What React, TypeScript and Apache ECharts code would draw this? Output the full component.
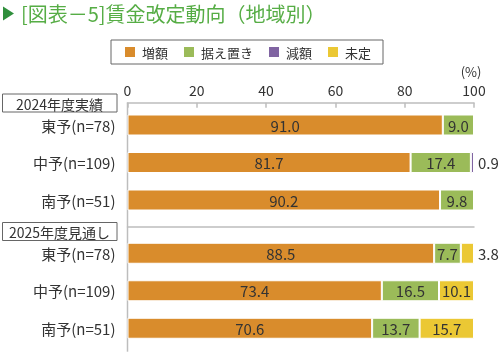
import React, { useEffect, useRef } from 'react';
import * as echarts from 'echarts';

const titleText = '[図表－5]賃金改定動向（地域別）';
const regions = ['東予(n=78)', '中予(n=109)', '南予(n=51)'];
const groupLabels = ['2024年度実績', '2025年度見通し'];
const seriesNames = ['増額', '据え置き', '減額', '未定'];
const colors = ['#d98c2c', '#9bbb59', '#8064a2', '#ebc834'];

const increase2024 = [91.0, 81.7, 90.2];
const flat2024 = [9.0, 17.4, 9.8];
const decrease2024 = [0, 0.9, 0];
const undecided2024 = [0, 0, 0];

const increase2025 = [88.5, 73.4, 70.6];
const flat2025 = [7.7, 16.5, 13.7];
const decrease2025 = [0, 0, 0];
const undecided2025 = [3.8, 10.1, 15.7];

const axisMin = 0;
const axisMax = 100;
const axisInterval = 20;
const unitLabel = '(%)';

const groups = [
  [increase2024, flat2024, decrease2024, undecided2024],
  [increase2025, flat2025, decrease2025, undecided2025],
];

const FONT = '"Noto Sans CJK JP", "Noto Sans", sans-serif';
const TEXT = '#333';
const AXIS = '#bdbdbd';

export default function App() {
  const ref = useRef<HTMLDivElement>(null);
  useEffect(() => {
    if (!ref.current) return;
    const chart = echarts.init(ref.current, null, { renderer: 'svg' });

    const grids = [
      { left: 127.5, right: 26, top: 106.25, height: 112.5 },
      { left: 127.5, right: 26, top: 234.5, height: 112.5 },
    ];
    const offsets = [3.5, 7.8];

    const xAxes = grids.map((_, g) => ({
      type: 'value',
      gridIndex: g,
      min: axisMin,
      max: axisMax,
      interval: axisInterval,
      position: 'top',
      offset: offsets[g],
      axisLine: { show: true, lineStyle: { color: AXIS, width: 1.5 } },
      axisTick: { show: g === 0, inside: true, length: 5, lineStyle: { color: AXIS, width: 1.5 } },
      axisLabel: { show: g === 0, fontSize: 14, color: TEXT, fontFamily: FONT, margin: 6 },
      splitLine: { show: false },
    }));

    const yAxes = grids.map((_, g) => ({
      type: 'category',
      gridIndex: g,
      data: regions,
      inverse: true,
      axisLine: { show: false },
      axisTick: { show: false },
      axisLabel: { fontSize: 15, color: TEXT, fontFamily: FONT, margin: 12 },
    }));

    const series: any[] = [];
    groups.forEach((vals, g) => {
      vals.forEach((arr, s) => {
        series.push({
          type: 'bar',
          name: seriesNames[s],
          xAxisIndex: g,
          yAxisIndex: g,
          stack: 'g' + g,
          barWidth: 21,
          itemStyle: { color: colors[s], borderColor: '#fff', borderWidth: 1 },
          label: {
            show: true,
            position: 'inside',
            fontSize: 15,
            color: TEXT,
            fontFamily: FONT,
            formatter: (p: any) => Number(p.value).toFixed(1),
          },
          data: arr.map((v) =>
            v === 0
              ? { value: '-', label: { show: false } }
              : v < 5
              ? { value: v, label: { position: 'right', distance: 4 } }
              : { value: v }
          ),
        });
      });
    });

    const headerY = [94, 222.5];
    const graphic: any[] = [
      {
        type: 'polygon',
        shape: { points: [[3, 6.5], [14, 13.5], [3, 20.5]] },
        style: { fill: '#2f8f3c' },
      },
      {
        type: 'text',
        x: 21,
        y: 13.5,
        style: {
          text: titleText,
          fontSize: 20,
          fill: '#56ad45',
          fontFamily: FONT,
          verticalAlign: 'middle',
          align: 'left',
        },
      },
      {
        type: 'text',
        x: 471,
        y: 71,
        style: { text: unitLabel, fontSize: 13, fill: TEXT, fontFamily: FONT, align: 'center', verticalAlign: 'middle' },
      },
      {
        type: 'line',
        shape: { x1: 127.5, y1: 102.5, x2: 127.5, y2: 351.7 },
        style: { stroke: AXIS, lineWidth: 1.5 },
      },
    ];
    groupLabels.forEach((t, i) => {
      graphic.push({
        type: 'rect',
        shape: { x: 2.5, y: headerY[i], width: 114.5, height: 18 },
        style: { fill: '#fff', stroke: '#666', lineWidth: 1 },
      });
      graphic.push({
        type: 'text',
        x: 59.5,
        y: headerY[i] + 9.5,
        style: { text: t, fontSize: 14, fill: TEXT, fontFamily: FONT, align: 'center', verticalAlign: 'middle' },
      });
    });

    chart.setOption({
      animation: false,
      textStyle: { fontFamily: FONT },
      legend: {
        data: seriesNames,
        left: 111,
        top: 40,
        padding: [5, 12],
        itemWidth: 12,
        itemHeight: 12,
        itemGap: 14,
        icon: 'rect',
        borderColor: '#666',
        borderWidth: 1,
        textStyle: { fontSize: 13, color: TEXT, fontFamily: FONT, padding: [0, 0, 0, 1] },
      },
      grid: grids,
      xAxis: xAxes,
      yAxis: yAxes,
      series,
      graphic,
    });
    return () => chart.dispose();
  }, []);
  return <div ref={ref} style={{ position: 'fixed', left: 0, top: 0, width: 500, height: 356 }} />;
}
